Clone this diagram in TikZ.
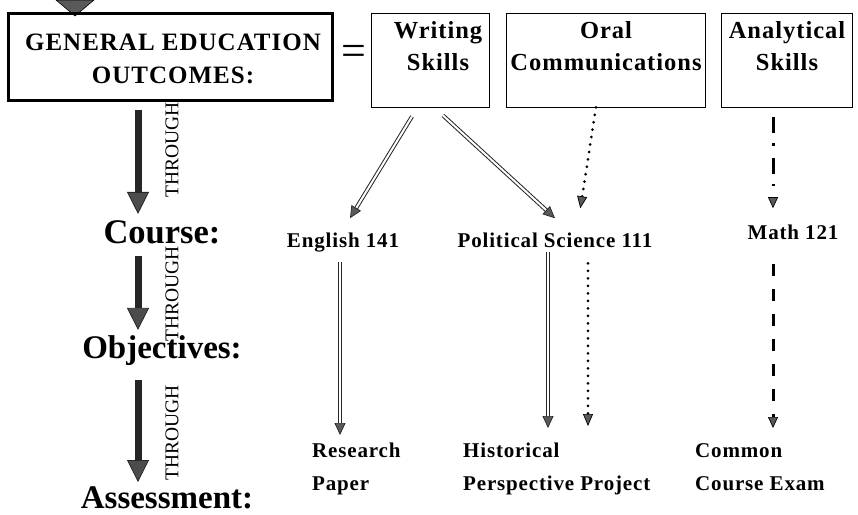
\documentclass[tikz,border=0pt]{standalone}
\usepackage{fontspec}
\setmainfont{Liberation Serif}
\newfontfamily\trk[LetterSpace=4]{Liberation Serif}
\usetikzlibrary{arrows.meta,calc}
\begin{document}
\begin{tikzpicture}[x=1pt,y=-1pt,
  obox/.style={draw, line width=0.9pt, inner sep=0pt},
  boxlab/.style={font=\trk\bfseries\fontsize{24.5}{32}\selectfont, align=center, inner sep=0pt, anchor=north},
  lab/.style={font=\trk\bfseries\fontsize{21}{32}\selectfont, inner sep=0pt},
  botlab/.style={font=\trk\bfseries\fontsize{21}{33}\selectfont, align=left, inner sep=0pt, anchor=north west},
  big/.style={font=\bfseries\fontsize{33}{36}\selectfont, inner sep=0pt, anchor=base},
  thr/.style={font=\fontsize{19.5}{20}\selectfont, rotate=90, inner sep=0pt},
  bigarrow/.style={line width=7pt, draw=black!85, -{Triangle[width=22pt,length=22pt,fill=black!70,line width=0.8pt]}},
  dbl/.style={double, double distance=2pt, line width=1pt, draw=black!85, -{Triangle[width=11pt,length=12pt,fill=black!65,line width=0.7pt]}},
  dotarrow/.style={line width=3pt, line cap=round, dash pattern=on 0pt off 7.5pt, -{Triangle[width=10pt,length=12pt,fill=black!65,line width=0.7pt,sep=2pt]}},
  dasharrow/.style={line width=3pt, dash pattern=on 12pt off 13pt, -{Triangle[width=10pt,length=11pt,fill=black!65,line width=0.7pt]}},
  dashdotarrow/.style={line width=3pt, dash pattern=on 16pt off 10pt on 2.5pt off 12pt, -{Triangle[width=10pt,length=11pt,fill=black!65,line width=0.7pt]}}
]
\useasboundingbox (0,0) rectangle (858,514);
% partial arrow from above
\filldraw[fill=black!65, draw=black, line width=0.6pt] (56,0) -- (94,0) -- (75,16) -- cycle;
% GEO box
\node[draw, line width=3pt, minimum width=324pt, minimum height=87pt, inner sep=0pt] (geo) at (170,56.5) {};
\node[font=\trk\bfseries\fontsize{25}{33}\selectfont, align=center, inner sep=0pt, anchor=north] (geol) at (173,34) {GENERAL EDUCATION\\OUTCOMES:};
\node[font=\fontsize{44}{44}\selectfont, inner sep=0pt] (eq) at (354,55) {=};
% outcome boxes
\node[obox, minimum width=118pt, minimum height=94pt] (ws) at (430,60) {};
\node[boxlab] (wsl) at (438,21) {Writing\\Skills};
\node[obox, minimum width=199pt, minimum height=94pt] (oc) at (605.5,60) {};
\node[boxlab] (ocl) at (606,21) {Oral\\Communications};
\node[obox, minimum width=131pt, minimum height=94pt] (an) at (786.5,60) {};
\node[boxlab] (anl) at (787,21) {Analytical\\Skills};
% left column
\node[big, font=\bfseries\fontsize{34.5}{36}\selectfont] (crs) at (162,243) {Course:};
\node[big] (obj) at (162,358) {Objectives:};
\node[big] (asm) at (167,508) {Assessment:};
\draw[bigarrow] ($(geo.south)+(-32,8)$) -- ($(crs.north)+(-24,-6)$);
\draw[bigarrow] ($(crs.south)+(-24,12)$) -- ($(obj.north)+(-24,-5)$);
\draw[bigarrow] ($(obj.south)+(-24,15)$) -- ($(asm.north)+(-29,-4)$);
\node[thr] (t1) at (172,150) {THROUGH};
\node[thr] (t2) at (172,294) {THROUGH};
\node[thr] (t3) at (172,433) {THROUGH};
% courses
\node[lab, anchor=base] (eng) at (343,247) {English 141};
\node[lab, anchor=base] (pol) at (555,247) {Political Science 111};
\node[lab, anchor=base] (mat) at (793,239) {Math 121};
\draw[dbl] ($(ws.south)+(-18,9)$) -- ($(eng.north)+(7,-14)$);
\draw[dbl] ($(ws.south)+(13,8)$) -- ($(pol.north)+(0,-14)$);
\draw[dotarrow] ($(oc.south)+(-9.5,0)$) -- ($(pol.north)+(25,-22)$);
\draw[dashdotarrow] ($(an.south)+(-13.5,10)$) -- ($(mat.north)+(-20,-16)$);
% objectives/assessments
\node[botlab] (rp) at (312,443) {Research\\Paper};
\node[botlab] (hp) at (463,443) {Historical\\Perspective Project};
\node[botlab] (ce) at (695,443) {Common\\Course Exam};
\draw[dbl] ($(eng.south)+(-3,10)$) -- ($(rp.north west)+(28,-8)$);
\draw[dbl] ($(pol.south)+(-7,5)$) -- ($(hp.north west)+(85,-15)$);
\draw[dotarrow] ($(pol.south)+(33,16)$) -- ($(hp.north west)+(125,-15)$);
\draw[dasharrow] ($(mat.south)+(-20,25)$) -- ($(ce.north west)+(78,-15)$);
\end{tikzpicture}
\end{document}
